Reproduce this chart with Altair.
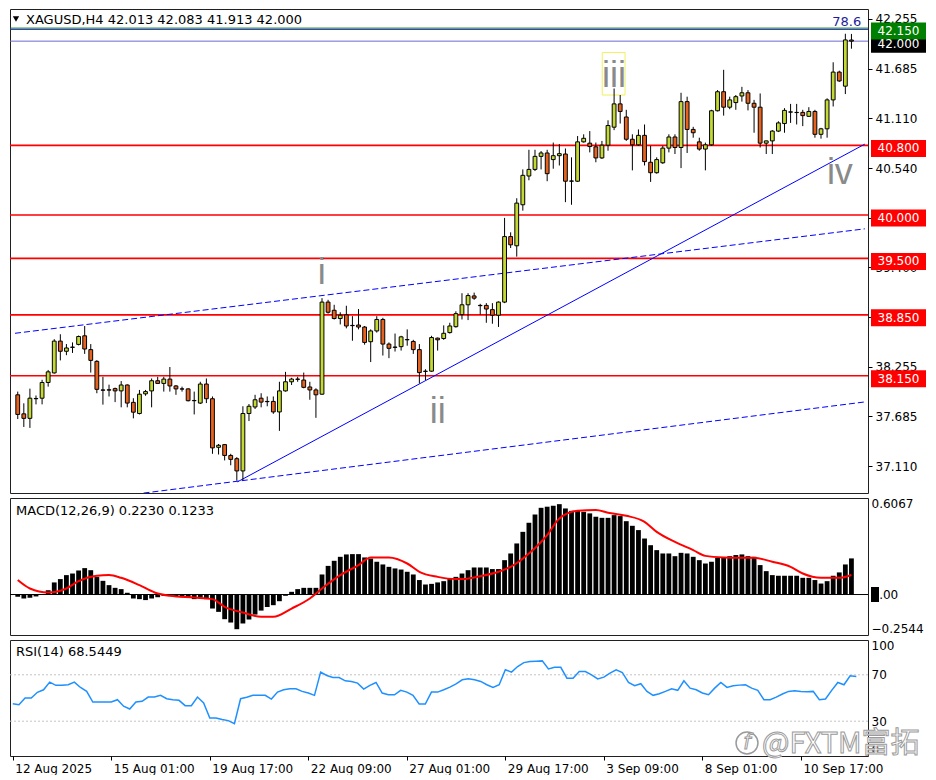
import altair as alt
import pandas as pd

# ---------------- data ----------------
open_ = [37.930, 37.711, 37.659, 37.888, 37.891, 38.072, 38.182, 38.548, 38.431, 38.476,
         38.510, 38.609, 38.450, 38.315, 37.986, 37.984, 38.001, 37.975, 38.043, 37.843,
         37.715, 37.941, 37.975, 38.092, 38.061, 38.111, 38.032, 37.998, 37.998, 37.862,
         37.835, 38.054, 37.885, 37.326, 37.357, 37.232, 37.195, 37.054, 37.715, 37.790,
         37.891, 37.854, 37.854, 37.733, 37.975, 38.080, 38.111, 38.100, 38.020, 37.986,
         37.937, 38.997, 38.903, 38.808, 38.850, 38.729, 38.733, 38.710, 38.541, 38.665,
         38.797, 38.514, 38.476, 38.484, 38.563, 38.544, 38.450, 38.202, 38.202, 38.582,
         38.578, 38.646, 38.714, 38.853, 38.966, 39.068, 38.959, 38.959, 38.910, 38.846,
         38.997, 39.751, 39.645, 40.117, 40.448, 40.524, 40.674, 40.713, 40.637, 40.682,
         40.701, 40.388, 40.388, 40.841, 40.826, 40.784, 40.656, 40.803, 41.010, 41.278,
         41.127, 40.871, 40.807, 40.916, 40.606, 40.486, 40.600, 40.769, 40.897, 40.776,
         41.304, 40.984, 40.841, 40.758, 40.807, 41.199, 41.418, 41.240, 41.293, 41.369,
         41.406, 41.285, 41.240, 40.826, 40.852, 40.965, 41.052, 41.183, 41.180, 41.180,
         41.135, 41.191, 40.928, 40.991, 41.324, 41.644, 41.482, 42.013]
high = [37.967, 37.832, 38.001, 37.922, 38.103, 38.216, 38.570, 38.627, 38.514, 38.533,
        38.612, 38.722, 38.514, 38.329, 38.137, 38.047, 38.013, 38.088, 38.050, 37.891,
        37.986, 37.986, 38.118, 38.137, 38.137, 38.250, 38.043, 38.024, 38.005, 37.967,
        38.080, 38.118, 37.911, 37.364, 37.364, 37.251, 37.213, 37.798, 37.824, 37.930,
        37.948, 37.911, 37.911, 38.080, 38.194, 38.126, 38.137, 38.186, 38.080, 38.005,
        39.042, 39.023, 38.966, 38.880, 38.955, 38.835, 38.917, 38.722, 38.683, 38.835,
        38.816, 38.533, 38.635, 38.609, 38.683, 38.563, 38.514, 38.224, 38.609, 38.589,
        38.729, 38.759, 38.891, 39.099, 39.099, 39.106, 38.977, 38.985, 38.985, 39.005,
        39.966, 39.800, 40.192, 40.524, 40.750, 40.750, 40.735, 40.750, 40.833, 40.815,
        40.765, 40.663, 40.908, 40.928, 40.965, 40.833, 40.852, 41.089, 41.455, 41.380,
        41.210, 40.928, 40.984, 41.041, 40.795, 40.663, 40.795, 40.928, 40.928, 41.406,
        41.361, 41.014, 40.889, 40.833, 41.210, 41.437, 41.670, 41.361, 41.380, 41.474,
        41.437, 41.324, 41.398, 40.855, 40.976, 41.078, 41.229, 41.278, 41.278, 41.210,
        41.240, 41.210, 41.002, 41.342, 41.757, 41.660, 42.085, 42.083]
low = [37.651, 37.560, 37.549, 37.820, 37.820, 38.024, 38.174, 38.326, 38.386, 38.412,
       38.499, 38.401, 38.186, 37.948, 37.817, 37.911, 37.846, 37.786, 37.786, 37.659,
       37.704, 37.919, 37.786, 38.058, 37.967, 37.967, 37.930, 37.967, 37.854, 37.704,
       37.824, 37.835, 37.251, 37.243, 37.175, 37.119, 36.941, 36.949, 37.628, 37.767,
       37.786, 37.798, 37.711, 37.515, 37.967, 38.043, 38.080, 38.005, 37.873, 37.665,
       37.930, 38.864, 38.797, 38.740, 38.695, 38.552, 38.683, 38.507, 38.307, 38.646,
       38.382, 38.352, 38.428, 38.439, 38.495, 38.401, 38.061, 38.100, 38.194, 38.439,
       38.563, 38.635, 38.703, 38.797, 38.790, 39.023, 38.853, 38.759, 38.748, 38.711,
       38.985, 39.619, 39.520, 40.049, 40.399, 40.505, 40.524, 40.388, 40.532, 40.569,
       40.147, 40.117, 40.380, 40.833, 40.720, 40.606, 40.645, 40.739, 40.976, 41.052,
       40.852, 40.513, 40.795, 40.569, 40.380, 40.475, 40.588, 40.720, 40.701, 40.539,
       40.713, 40.889, 40.739, 40.513, 40.795, 41.191, 41.143, 41.217, 41.210, 41.304,
       41.203, 40.946, 40.776, 40.701, 40.701, 40.954, 40.946, 41.059, 41.041, 41.022,
       41.127, 40.889, 40.878, 40.889, 41.248, 41.531, 41.391, 41.913]
close = [37.704, 37.659, 37.891, 37.885, 38.072, 38.194, 38.548, 38.431, 38.469, 38.479,
         38.601, 38.457, 38.326, 37.993, 37.983, 37.988, 37.975, 38.043, 37.835, 37.730,
         37.937, 37.967, 38.092, 38.061, 38.111, 38.032, 37.998, 37.996, 37.862, 37.865,
         38.054, 37.885, 37.319, 37.349, 37.232, 37.187, 37.054, 37.715, 37.798, 37.873,
         37.846, 37.851, 37.733, 37.975, 38.080, 38.111, 38.108, 38.016, 37.986, 37.930,
         38.997, 38.880, 38.808, 38.846, 38.722, 38.726, 38.710, 38.533, 38.665, 38.797,
         38.514, 38.465, 38.479, 38.597, 38.566, 38.450, 38.186, 38.199, 38.589, 38.563,
         38.638, 38.722, 38.864, 38.966, 39.072, 39.042, 38.956, 38.917, 38.846, 38.997,
         39.751, 39.656, 40.136, 40.456, 40.524, 40.674, 40.713, 40.475, 40.682, 40.705,
         40.388, 40.391, 40.841, 40.882, 40.787, 40.656, 40.803, 41.029, 41.278, 41.191,
         40.871, 40.807, 40.916, 40.614, 40.486, 40.637, 40.769, 40.897, 40.776, 41.304,
         40.984, 40.946, 40.758, 40.807, 41.199, 41.418, 41.240, 41.324, 41.361, 41.406,
         41.285, 41.240, 40.826, 40.852, 40.965, 41.059, 41.203, 41.186, 41.178, 41.143,
         41.191, 40.928, 40.991, 41.324, 41.644, 41.542, 42.014, 42.000]

macd_hist = [-0.014, -0.025, -0.021, -0.012, 0.003, 0.027, 0.076, 0.097, 0.122, 0.132,
             0.151, 0.166, 0.153, 0.111, 0.086, 0.059, 0.042, 0.034, 0.011, -0.025,
             -0.029, -0.035, -0.025, -0.017, -0.008, -0.010, -0.012, -0.017, -0.021, -0.029,
             -0.021, -0.029, -0.088, -0.109, -0.155, -0.176, -0.218, -0.182, -0.157, -0.126,
             -0.101, -0.079, -0.067, -0.042, -0.008, 0.017, 0.034, 0.042, 0.042, 0.042,
             0.126, 0.180, 0.212, 0.237, 0.252, 0.254, 0.254, 0.233, 0.226, 0.206,
             0.189, 0.174, 0.164, 0.157, 0.143, 0.126, 0.091, 0.063, 0.067, 0.076,
             0.084, 0.097, 0.111, 0.132, 0.153, 0.170, 0.170, 0.170, 0.160, 0.160,
             0.216, 0.258, 0.321, 0.394, 0.451, 0.503, 0.545, 0.552, 0.558, 0.568,
             0.541, 0.526, 0.526, 0.520, 0.510, 0.489, 0.482, 0.482, 0.499, 0.493,
             0.461, 0.432, 0.405, 0.352, 0.310, 0.279, 0.258, 0.258, 0.241, 0.262,
             0.258, 0.237, 0.216, 0.195, 0.206, 0.231, 0.231, 0.241, 0.248, 0.252,
             0.241, 0.237, 0.185, 0.147, 0.122, 0.118, 0.118, 0.118, 0.118, 0.105,
             0.105, 0.091, 0.069, 0.084, 0.118, 0.139, 0.189, 0.227]

signal_idx = [1, 3, 6, 9, 11, 14, 16, 18, 21, 23.5, 26, 30, 33, 35, 38, 41, 43, 46, 49, 51,
              54, 57, 59, 62, 65, 67, 70, 73, 74.5, 77, 80, 82, 85, 88, 90, 93, 96, 98, 101,
              104, 106, 109, 112, 114, 117, 120, 122, 125, 128, 130, 133, 136, 138]
signal_val = [0.091, 0.038, 0.013, 0.038, 0.084, 0.118, 0.122, 0.105, 0.059, 0.013, -0.008,
              -0.019, -0.029, -0.077, -0.113, -0.140, -0.140, -0.088, -0.025, 0.038, 0.122,
              0.185, 0.233, 0.233, 0.195, 0.143, 0.111, 0.097, 0.098, 0.115, 0.143, 0.174,
              0.258, 0.374, 0.478, 0.526, 0.531, 0.514, 0.495, 0.457, 0.394, 0.331, 0.279,
              0.243, 0.233, 0.231, 0.231, 0.206, 0.174, 0.132, 0.105, 0.105, 0.123]

rsi = [45.1, 44.2, 50.0, 50.0, 54.9, 57.1, 63.7, 60.9, 60.9, 61.4,
       63.7, 59.1, 55.7, 46.5, 46.5, 46.5, 46.5, 48.5, 42.9, 40.5,
       46.5, 47.1, 50.8, 50.8, 52.3, 49.4, 48.5, 48.0, 43.4, 43.4,
       50.8, 45.7, 32.8, 32.8, 31.4, 30.5, 27.9, 49.4, 50.6, 52.3,
       52.3, 52.3, 49.1, 55.1, 57.1, 57.9, 57.9, 55.7, 54.3, 52.3,
       72.3, 69.4, 67.7, 67.7, 64.8, 64.3, 62.8, 57.7, 60.9, 63.4,
       54.3, 52.8, 52.8, 56.6, 55.1, 52.3, 44.8, 44.8, 55.1, 55.1,
       57.1, 59.4, 62.2, 65.7, 66.5, 65.7, 64.3, 61.4, 59.1, 61.4,
       74.3, 72.3, 77.1, 80.5, 81.4, 81.7, 82.0, 75.1, 76.5, 76.5,
       67.1, 67.1, 72.8, 72.8, 70.0, 66.5, 68.0, 71.4, 74.3, 72.0,
       63.4, 60.6, 62.3, 55.7, 52.3, 53.7, 55.7, 58.0, 56.6, 64.8,
       58.5, 57.1, 54.3, 52.8, 58.5, 63.4, 59.1, 60.6, 61.1, 61.4,
       58.5, 56.6, 48.5, 48.5, 50.8, 53.4, 55.7, 56.3, 55.7, 55.4,
       55.7, 48.5, 49.1, 56.6, 63.4, 61.4, 69.1, 68.5]

levels = [40.80, 40.00, 39.50, 38.85, 38.15]
badge_price = [42.000, 42.150, 40.80, 40.00, 39.50, 38.85, 38.15]
badge_text = ["42.000", "42.150", "40.800", "40.000", "39.500", "38.850", "38.150"]
badge_color = ["#000000", "#008000", "#ff0000", "#ff0000", "#ff0000", "#ff0000", "#ff0000"]
price_ticks = [42.255, 41.685, 41.110, 40.540, 39.970, 39.400, 38.825, 38.255, 37.685, 37.110]

top_line_price = [42.000, 42.150, 42.135]
top_line_color = ["#6a6ad2", "#008000", "#2a2ac8"]

trend_solid_idx = [37.1, 140.2]
trend_solid_price = [36.928, 40.815]
trend_up_idx = [0.55, 140.2]
trend_up_price = [38.638, 39.840]
trend_lo_idx = [21.67, 140.2]
trend_lo_price = [36.799, 37.848]

wave_text = ["i", "ii", "iii", "iv"]
wave_idx = [50.97, 70.0, 99.0, 136.1]
wave_price = [39.200, 37.609, 41.474, 40.351]
box_idx = [97.05, 100.8]
box_price = [41.380, 41.870]

date_idx = [1, 17, 33, 49, 65, 81, 97, 113, 129]
date_labels = ["12 Aug 2025", "15 Aug 01:00", "19 Aug 17:00", "22 Aug 09:00", "27 Aug 01:00",
               "29 Aug 17:00", "3 Sep 09:00", "8 Sep 01:00", "10 Sep 17:00"]

header = "XAGUSD,H4  42.013 42.083 41.913 42.000"
macd_title = "MACD(12,26,9) 0.2230 0.1233"
rsi_title = "RSI(14) 68.5449"

# ---------------- layout ----------------
W = 858
H1, H2, H3 = 484, 137, 116
XDOM = [0.55, 139.9]
BULL = "#c5d934"
BEAR = "#e5621f"
FONT = "DejaVu Sans"

n = len(open_)
idx = list(range(1, n + 1))
candles = pd.DataFrame({"idx": idx, "o": open_, "h": high, "l": low, "c": close})
candles["dir"] = ["up" if c >= o else "down" for o, c in zip(open_, close)]

xs = alt.Scale(domain=XDOM, nice=False, zero=False)
X = alt.X("idx:Q", scale=xs, axis=None)
ys = alt.Scale(domain=[36.80, 42.37], nice=False, zero=False)

price_axis = alt.Axis(orient="right", values=price_ticks, format=".3f", tickSize=4,
                      tickColor="black", domain=False, labelPadding=3, title=None,
                      labelFlush=False, labelOverlap=False, grid=False)


def PY(field):
    return alt.Y(field, scale=ys, axis=price_axis)


wicks = alt.Chart(candles).mark_rule(color="black", strokeWidth=1).encode(
    x=X, y=PY("l:Q"), y2="h:Q")
bodies = alt.Chart(candles).mark_bar(size=3.8, stroke="black", strokeWidth=1, opacity=1).encode(
    x=X, y=PY("o:Q"), y2="c:Q",
    color=alt.Color("dir:N", scale=alt.Scale(domain=["up", "down"], range=[BULL, BEAR]), legend=None))

lv = pd.DataFrame({"price": levels})
red_lines = alt.Chart(lv).mark_rule(color="#ff0000", strokeWidth=1.6).encode(y=PY("price:Q"))

tl = pd.DataFrame({"price": top_line_price, "col": top_line_color})
top_lines = alt.Chart(tl).mark_rule(strokeWidth=1).encode(
    y=PY("price:Q"), color=alt.Color("col:N", scale=None))


def seg(xv, yv):
    return pd.DataFrame({"idx": xv, "price": yv})


solid = alt.Chart(seg(trend_solid_idx, trend_solid_price)).mark_line(
    color="#0000ff", strokeWidth=1, clip=True).encode(x=X, y=PY("price:Q"))
dash_df = pd.concat([seg(trend_up_idx, trend_up_price).assign(k="a"),
                     seg(trend_lo_idx, trend_lo_price).assign(k="b")])
dashed = alt.Chart(dash_df).mark_line(color="#0000ff", strokeWidth=1, strokeDash=[6, 3], clip=True).encode(
    x=X, y=PY("price:Q"), detail="k:N")

waves = alt.Chart(pd.DataFrame({"idx": wave_idx, "price": wave_price, "t": wave_text})).mark_text(
    font="Liberation Sans", fontSize=36, color="#8a8a8a", align="center", baseline="alphabetic").encode(
    x=X, y=PY("price:Q"), text="t:N")
box = alt.Chart(pd.DataFrame({"x1": [box_idx[0]], "x2": [box_idx[1]],
                              "y1": [box_price[0]], "y2": [box_price[1]]})).mark_rect(
    fillOpacity=0, stroke="#f0f060", strokeWidth=1).encode(
    x=alt.X("x1:Q", scale=xs, axis=None), x2="x2:Q", y=PY("y1:Q"), y2="y2:Q")

fib = alt.Chart(pd.DataFrame({"idx": [139.6], "price": [42.175], "t": ["78.6"]})).mark_text(
    font=FONT, fontSize=13, color="#1e1e9c", align="right", baseline="alphabetic").encode(
    x=X, y=PY("price:Q"), text="t:N")

bd = pd.DataFrame({"price": badge_price, "t": badge_text, "bg": badge_color})
badge_box = alt.Chart(bd).mark_tick(orient="horizontal", size=55, thickness=17, yOffset=3, opacity=1).encode(
    x=alt.value(W + 30.5), y=PY("price:Q"), color=alt.Color("bg:N", scale=None))
badge_txt = alt.Chart(bd).mark_text(font=FONT, fontSize=12, color="white", yOffset=3,
                                    align="center", baseline="middle").encode(
    x=alt.value(W + 30.5), y=PY("price:Q"), text="t:N")

hdr_df = pd.DataFrame({"t": [header]})
hdr = alt.Chart(hdr_df).mark_text(font=FONT, fontSize=13, color="black", align="left", baseline="middle").encode(
    x=alt.value(16), y=alt.value(11), text="t:N")
tri = alt.Chart(hdr_df).mark_point(shape="triangle-down", filled=True, size=40, color="black", opacity=1).encode(
    x=alt.value(6), y=alt.value(10))

main = alt.layer(red_lines, top_lines, dashed, solid, box, waves, wicks, bodies, fib,
                 badge_box, badge_txt, hdr, tri).properties(width=W, height=H1)

# ---------------- MACD ----------------
ms = alt.Scale(domain=[-0.2544, 0.6067], nice=False, zero=False)
macd_axis = alt.Axis(orient="right", values=[0.6067, 0, -0.2544],
                     labelExpr="datum.value == 0 ? '0.00' : format(datum.value, '.4f')",
                     labelFlush=True, ticks=False, domain=False, labelPadding=3, title=None,
                     grid=False, labelOverlap=False, zindex=1)


def MY(field):
    return alt.Y(field, scale=ms, axis=macd_axis)


mdf = pd.DataFrame({"idx": idx, "v": macd_hist})
hist = alt.Chart(mdf).mark_bar(size=4.8, color="black", opacity=1).encode(
    x=X, y=MY("v:Q"), y2=alt.datum(0))
zero = alt.Chart(pd.DataFrame({"v": [0]})).mark_rule(color="#000000", strokeWidth=1).encode(y=MY("v:Q"))
sdf = pd.DataFrame({"idx": signal_idx, "v": signal_val})
sig = alt.Chart(sdf).mark_line(color="#ff0000", strokeWidth=2, interpolate="monotone").encode(
    x=X, y=MY("v:Q"))
zbox = alt.Chart(pd.DataFrame({"v": [0]})).mark_tick(orient="horizontal", size=8, thickness=15,
                                                      color="black", opacity=1).encode(
    x=alt.value(W + 7), y=MY("v:Q"))
mtitle = alt.Chart(pd.DataFrame({"t": [macd_title]})).mark_text(
    font=FONT, fontSize=13, color="black", align="left", baseline="middle").encode(
    x=alt.value(6), y=alt.value(13), text="t:N")
macd = alt.layer(zero, hist, sig, zbox, mtitle).properties(width=W, height=H2)

# ---------------- RSI ----------------
rs = alt.Scale(domain=[0, 100], nice=False, zero=False)
rsi_axis = alt.Axis(orient="right", values=[100, 70, 30, 0], labelFlush=True, ticks=False,
                    domain=False, labelPadding=3, title=None, grid=False, labelOverlap=False)


def RY(field):
    return alt.Y(field, scale=rs, axis=rsi_axis)


date_expr = "[" + ",".join("'" + d + "'" for d in date_labels) + "][round((datum.value - 1) / 16)]"
x_axis = alt.Axis(orient="bottom", values=date_idx, labelExpr=date_expr, labelAlign="left",
                  labelPadding=3, labelOffset=2, tickSize=4, tickColor="black", domain=False,
                  title=None, grid=False, labelFlush=False, labelOverlap=False, labelBound=False)
rdf = pd.DataFrame({"idx": idx, "v": rsi})
rline = alt.Chart(rdf).mark_line(color="#1e90ff", strokeWidth=1.5).encode(
    x=alt.X("idx:Q", scale=xs, axis=x_axis), y=RY("v:Q"))
rlev = alt.Chart(pd.DataFrame({"v": [70, 30]})).mark_rule(color="#c4c4c4", strokeDash=[2, 2], strokeWidth=1).encode(
    y=RY("v:Q"))
rtitle = alt.Chart(pd.DataFrame({"t": [rsi_title]})).mark_text(
    font=FONT, fontSize=13, color="black", align="left", baseline="middle").encode(
    x=alt.value(6), y=alt.value(12), text="t:N")
wm_df = pd.DataFrame({"t": ["@FXTM富拓"]})
wm = alt.Chart(wm_df).mark_text(font="Noto Sans CJK SC", fontSize=29, fill="white", stroke="#9a9a9a",
                                strokeWidth=1, align="left", baseline="alphabetic").encode(
    x=alt.value(752), y=alt.value(113), text="t:N")
wm_logo = alt.Chart(wm_df).mark_point(shape="circle", size=480, filled=False, color="#9a9a9a",
                                      strokeWidth=1.5, opacity=1).encode(x=alt.value(737), y=alt.value(103))
wm_f = alt.Chart(pd.DataFrame({"t": ["f"]})).mark_text(font="DejaVu Sans", fontSize=21, fontStyle="italic",
                                                      fill="white", stroke="#9a9a9a", strokeWidth=1,
                                                      align="center", baseline="middle").encode(
    x=alt.value(737), y=alt.value(103), text="t:N")
rsi_chart = alt.layer(rlev, rline, rtitle, wm_logo, wm_f, wm).properties(width=W, height=H3)

chart = alt.vconcat(main, macd, rsi_chart, spacing=2).properties(
    padding={"left": 0, "top": 0, "right": 0, "bottom": 0}, background="white"
).configure_view(stroke="#202020", strokeWidth=1).configure_axis(
    labelFont=FONT, labelFontSize=12, labelColor="black", grid=False
)

chart.save("out.html", embed_options={"renderer": "svg", "actions": False})
